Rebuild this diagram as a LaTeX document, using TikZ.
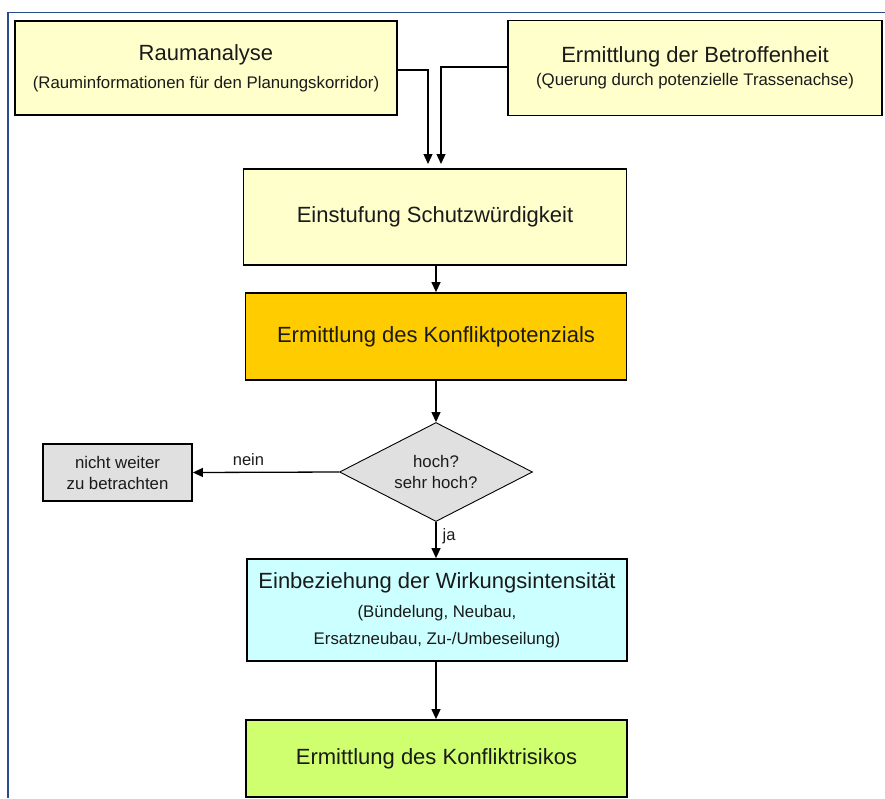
\documentclass[tikz,border=0pt]{standalone}
\usepackage{fontspec}
\setmainfont{Liberation Sans}
\usetikzlibrary{shapes.geometric,arrows.meta}
\definecolor{lightyel}{HTML}{FFFFCC}
\definecolor{orangeyel}{HTML}{FFCC00}
\definecolor{lightgrey}{HTML}{E0E0E0}
\definecolor{lightcyan}{HTML}{CCFFFF}
\definecolor{limegreen}{HTML}{CFFF6E}
\definecolor{framblue}{HTML}{2B4C8C}
\definecolor{txt}{HTML}{1A1A1A}
\newcommand\subfnt{\fontsize{16.8}{20}\selectfont}
\begin{document}
\begin{tikzpicture}[x=1pt,y=-1pt,
  box/.style={draw=black, line width=1.8pt, rectangle, inner sep=0pt, align=center, text=txt,
              font=\fontsize{22}{26}\selectfont},
  smallbox/.style={draw=black, line width=1.8pt, rectangle, inner sep=0pt, align=center, text=txt,
              font=\fontsize{16.8}{21}\selectfont, fill=lightgrey},
  decision/.style={draw=black, line width=0.9pt, diamond, aspect=2, inner sep=0pt, align=center,
              text=txt, fill=lightgrey, font=\fontsize{16.8}{21}\selectfont},
  conn/.style={line width=1.3pt, -{Triangle[length=10pt,width=9pt]}},
  lbl/.style={font=\fontsize{16.5}{20}\selectfont, text=txt, inner sep=0pt}
]
\useasboundingbox (0,0) rectangle (885,798);
\draw[framblue, line width=1.6pt] (8,798) -- (8,12.5) -- (885,12.5);

\node[box, fill=lightyel, minimum width=382pt, minimum height=94pt] (raum) at (206,68)
  {Raumanalyse\\[2pt]\subfnt (Rauminformationen für den Planungskorridor)};
\node[box, fill=lightyel, minimum width=374pt, minimum height=95pt] (betr) at (695,68)
  {Ermittlung der Betroffenheit\\[-3pt]\subfnt (Querung durch potenzielle Trassenachse)};
\node[box, fill=lightyel, minimum width=383pt, minimum height=96pt] (einst) at (435,217)
  {Einstufung Schutzwürdigkeit};
\node[box, fill=orangeyel, minimum width=381pt, minimum height=87pt] (kpot) at (436,336.5)
  {Ermittlung des Konfliktpotenzials};
\node[decision, minimum width=193pt, minimum height=99pt] (dec) at (436,472)
  {hoch?\\sehr hoch?};
\node[smallbox, minimum width=149pt, minimum height=57pt] (nicht) at (117.5,472.5)
  {nicht weiter\\zu betrachten};
\node[box, fill=lightcyan, minimum width=380pt, minimum height=102pt] (wirk) at (437,610)
  {Einbeziehung der Wirkungsintensität\\[3pt]\subfnt (Bündelung, Neubau,\\[1pt]\subfnt Ersatzneubau, Zu-/Umbeseilung)};
\node[box, fill=limegreen, minimum width=381pt, minimum height=77pt] (krisk) at (436.5,758.5)
  {Ermittlung des Konfliktrisikos};

\coordinate (t1) at (428,169);
\coordinate (t2) at (441,169);
\draw[conn, shorten >=5pt] (raum.east |- 0,70) -| (t1);
\draw[conn, shorten >=5pt] (betr.west |- 0,67) -| (t2);
\draw[conn] (einst.south -| 436,0) -- (kpot.north -| 436,0);
\draw[conn] (kpot.south -| 436,0) -- (dec.north);
\draw[conn] (dec.west) -- node[lbl, above=6pt, pos=0.62] {nein} (nicht.east);
\draw[conn] (dec.south) -- node[lbl, right=6pt, pos=0.4] {ja} (wirk.north -| 436,0);
\draw[conn] (wirk.south -| 436,0) -- (krisk.north -| 436,0);
\end{tikzpicture}
\end{document}
